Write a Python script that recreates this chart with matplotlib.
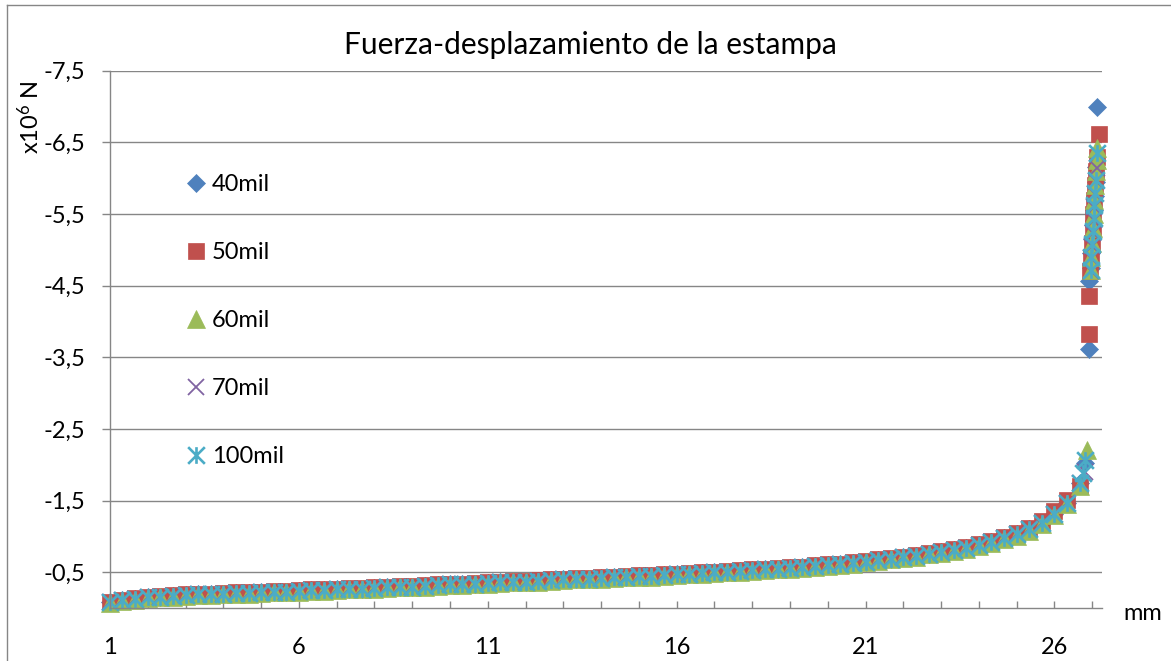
import matplotlib
matplotlib.use("Agg")
import matplotlib.pyplot as plt
from matplotlib.path import Path
from matplotlib.lines import Line2D
from matplotlib.ticker import FixedLocator, FuncFormatter

plt.rcParams['font.family'] = ['Lato', 'DejaVu Sans']
plt.rcParams['mathtext.fontset'] = 'custom'
plt.rcParams['mathtext.rm'] = 'Lato'
plt.rcParams['mathtext.it'] = 'Lato'

# ---------------- data ----------------
title = "Fuerza-desplazamiento de la estampa"
series_names = ["40mil", "50mil", "60mil", "70mil", "100mil"]
y_ticks = [-7.5, -6.5, -5.5, -4.5, -3.5, -2.5, -1.5, -0.5]
x_ticks = [1, 6, 11, 16, 21, 26]

# displacement (mm) of the smooth part, shared by the series
x_band = [1.00, 1.33, 1.67, 2.00, 2.33, 2.67, 3.00, 3.33, 3.67, 4.00, 4.33, 4.67,
          5.00, 5.33, 5.67, 6.00, 6.33, 6.67, 7.00, 7.33, 7.67, 8.00, 8.33, 8.67,
          9.00, 9.33, 9.67, 10.00, 10.33, 10.67, 11.00, 11.33, 11.67, 12.00, 12.33, 12.67,
          13.00, 13.33, 13.67, 14.00, 14.33, 14.67, 15.00, 15.33, 15.67, 16.00, 16.33, 16.67,
          17.00, 17.33, 17.67, 18.00, 18.33, 18.67, 19.00, 19.33, 19.67, 20.00, 20.33, 20.67,
          21.00, 21.33, 21.67, 22.00, 22.33, 22.67, 23.00, 23.33, 23.67, 24.00, 24.33, 24.67,
          25.00, 25.33, 25.67, 26.00, 26.33, 26.67]

# force (x10^6 N) of the smooth part
f40_band = [-0.08, -0.11, -0.13, -0.15, -0.16, -0.17, -0.18, -0.19, -0.19, -0.20, -0.21, -0.21,
            -0.22, -0.23, -0.23, -0.24, -0.25, -0.25, -0.26, -0.27, -0.27, -0.28, -0.29, -0.30,
            -0.30, -0.31, -0.32, -0.33, -0.33, -0.34, -0.35, -0.36, -0.37, -0.37, -0.38, -0.39,
            -0.40, -0.41, -0.41, -0.42, -0.43, -0.44, -0.45, -0.45, -0.46, -0.47, -0.48, -0.49,
            -0.50, -0.51, -0.52, -0.53, -0.54, -0.55, -0.56, -0.57, -0.59, -0.60, -0.61, -0.63,
            -0.65, -0.67, -0.69, -0.71, -0.73, -0.76, -0.78, -0.81, -0.84, -0.88, -0.92, -0.98,
            -1.03, -1.10, -1.19, -1.32, -1.47, -1.75]
f50_band = [-0.09, -0.12, -0.14, -0.16, -0.17, -0.18, -0.19, -0.20, -0.20, -0.21, -0.22, -0.22,
            -0.23, -0.24, -0.24, -0.25, -0.26, -0.26, -0.27, -0.28, -0.28, -0.29, -0.30, -0.31,
            -0.31, -0.32, -0.33, -0.34, -0.34, -0.35, -0.36, -0.37, -0.38, -0.38, -0.39, -0.40,
            -0.41, -0.42, -0.42, -0.43, -0.44, -0.45, -0.46, -0.46, -0.47, -0.48, -0.49, -0.50,
            -0.51, -0.52, -0.53, -0.54, -0.55, -0.56, -0.57, -0.58, -0.60, -0.61, -0.62, -0.64,
            -0.66, -0.68, -0.70, -0.72, -0.74, -0.77, -0.79, -0.82, -0.85, -0.89, -0.93, -0.99,
            -1.05, -1.12, -1.21, -1.35, -1.51, -1.70]
f60_band = [-0.07, -0.10, -0.12, -0.14, -0.15, -0.16, -0.17, -0.18, -0.18, -0.19, -0.20, -0.20,
            -0.21, -0.22, -0.22, -0.23, -0.24, -0.24, -0.25, -0.26, -0.26, -0.27, -0.28, -0.29,
            -0.29, -0.30, -0.31, -0.32, -0.32, -0.33, -0.34, -0.35, -0.36, -0.36, -0.37, -0.38,
            -0.39, -0.40, -0.40, -0.41, -0.42, -0.43, -0.44, -0.44, -0.45, -0.46, -0.47, -0.48,
            -0.49, -0.50, -0.51, -0.52, -0.53, -0.54, -0.55, -0.56, -0.58, -0.59, -0.60, -0.62,
            -0.64, -0.66, -0.68, -0.70, -0.72, -0.75, -0.77, -0.80, -0.83, -0.87, -0.91, -0.96,
            -1.01, -1.08, -1.17, -1.30, -1.45, -1.70]
f70_band = [-0.08, -0.11, -0.13, -0.15, -0.16, -0.17, -0.18, -0.19, -0.19, -0.20, -0.21, -0.21,
            -0.22, -0.23, -0.23, -0.24, -0.25, -0.25, -0.26, -0.27, -0.27, -0.28, -0.29, -0.30,
            -0.30, -0.31, -0.32, -0.33, -0.33, -0.34, -0.35, -0.36, -0.37, -0.37, -0.38, -0.39,
            -0.40, -0.41, -0.41, -0.42, -0.43, -0.44, -0.45, -0.45, -0.46, -0.47, -0.48, -0.49,
            -0.50, -0.51, -0.52, -0.53, -0.54, -0.55, -0.56, -0.57, -0.59, -0.60, -0.61, -0.63,
            -0.65, -0.67, -0.69, -0.71, -0.73, -0.76, -0.78, -0.81, -0.84, -0.88, -0.92, -0.98,
            -1.03, -1.10, -1.19, -1.32, -1.47, -1.75]
f100_band = [-0.08, -0.11, -0.13, -0.15, -0.16, -0.17, -0.18, -0.19, -0.19, -0.20, -0.21, -0.21,
             -0.22, -0.23, -0.23, -0.24, -0.25, -0.25, -0.26, -0.27, -0.27, -0.28, -0.29, -0.30,
             -0.30, -0.31, -0.32, -0.33, -0.33, -0.34, -0.35, -0.36, -0.37, -0.37, -0.38, -0.39,
             -0.40, -0.41, -0.41, -0.42, -0.43, -0.44, -0.45, -0.45, -0.46, -0.47, -0.48, -0.49,
             -0.50, -0.51, -0.52, -0.53, -0.54, -0.55, -0.56, -0.57, -0.59, -0.60, -0.61, -0.63,
             -0.65, -0.67, -0.69, -0.71, -0.73, -0.76, -0.78, -0.81, -0.84, -0.88, -0.92, -0.98,
             -1.03, -1.10, -1.19, -1.32, -1.47, -1.75]

# the final steep part of each curve
x40_tail = [26.80, 26.91, 26.92, 26.96, 26.98, 27.00, 27.03, 27.05, 27.07, 27.09, 27.11, 27.13]
f40_tail = [-2.02, -3.61, -4.56, -4.75, -4.95, -5.15, -5.35, -5.55, -5.75, -5.95, -6.15, -7.00]
x50_tail = [26.91, 26.92, 26.95, 26.97, 26.99, 27.01, 27.03, 27.06, 27.08, 27.10, 27.12, 27.17]
f50_tail = [-3.83, -4.36, -4.70, -4.90, -5.10, -5.30, -5.50, -5.70, -5.90, -6.10, -6.30, -6.62]
x60_tail = [26.86, 26.96, 26.98, 27.00, 27.02, 27.04, 27.06, 27.08, 27.10, 27.12, 27.14]
f60_tail = [-2.21, -4.72, -4.90, -5.10, -5.30, -5.50, -5.70, -5.90, -6.10, -6.25, -6.42]
x70_tail = [26.80, 26.96, 26.98, 27.00, 27.02, 27.04, 27.06, 27.08, 27.10, 27.12]
f70_tail = [-1.90, -4.70, -4.88, -5.06, -5.24, -5.42, -5.60, -5.78, -5.96, -6.14]
x100_tail = [26.75, 26.80, 26.96, 26.98, 27.00, 27.02, 27.04, 27.06, 27.08, 27.10, 27.13]
f100_tail = [-1.88, -2.07, -4.72, -4.90, -5.08, -5.26, -5.44, -5.62, -5.80, -5.98, -6.35]

# ---------------- styling ----------------
colors = ["#4F81BD", "#C0504D", "#9BBB59", "#8064A2", "#4BACC6"]
grid_col = "#868686"
star = Path([(-0.5, -0.5), (0.5, 0.5), (-0.5, 0.5), (0.5, -0.5), (0, -0.5), (0, 0.5)],
            [Path.MOVETO, Path.LINETO, Path.MOVETO, Path.LINETO, Path.MOVETO, Path.LINETO])
styles = [dict(marker="D", ms=9.0, mfc=colors[0], mec=colors[0], mew=0.5),
          dict(marker="s", ms=12.0, mfc=colors[1], mec=colors[1], mew=0.5),
          dict(marker="^", ms=12.5, mfc=colors[2], mec=colors[2], mew=0.5),
          dict(marker="x", ms=12.0, mfc="none", mec=colors[3], mew=1.3),
          dict(marker=star, ms=12.0, mfc="none", mec=colors[4], mew=1.9)]

xs = [x_band + x40_tail, x_band + x50_tail, x_band + x60_tail, x_band + x70_tail, x_band + x100_tail]
fs = [f40_band + f40_tail, f50_band + f50_tail, f60_band + f60_tail, f70_band + f70_tail, f100_band + f100_tail]

W, H = 1171, 661
fig = plt.figure(figsize=(W / 100, H / 100), dpi=100)
ax = fig.add_axes([110 / W, 1 - 608.1 / H, 992 / W, 537.4 / H])

handles = []
for x, f, st, name in zip(xs, fs, styles, series_names):
    h, = ax.plot(x, f, linestyle="none", label=name, clip_on=False, **st)
    handles.append(h)

ax.set_xlim(1, 27.26)
ax.set_ylim(0, -7.5)

ax.yaxis.set_major_locator(FixedLocator(y_ticks))
ax.yaxis.set_major_formatter(FuncFormatter(lambda v, p: f"{v:.1f}".replace(".", ",")))
ax.xaxis.set_major_locator(FixedLocator(x_ticks))
ax.xaxis.set_minor_locator(FixedLocator(list(range(1, 28))))
ax.xaxis.set_major_formatter(FuncFormatter(lambda v, p: f"{int(round(v))}"))

ax.grid(axis="y", color=grid_col, linewidth=1.0)
ax.set_axisbelow(True)
for s in ["top", "right"]:
    ax.spines[s].set_visible(False)
for s in ["left", "bottom"]:
    ax.spines[s].set_color(grid_col)
    ax.spines[s].set_linewidth(1.0)

FS = 17
ax.tick_params(axis="y", direction="out", length=5.8, width=1.0, color=grid_col,
               labelsize=FS, pad=12, labelcolor="black")
ax.tick_params(axis="x", which="both", direction="in", length=5.4, width=1.0, color=grid_col,
               labelsize=FS, pad=21, labelcolor="black")

leg = ax.legend(handles=handles, loc="center left", bbox_to_anchor=(0.0748, 0.535),
                frameon=False, fontsize=FS, labelspacing=1.99, handlelength=1.0,
                handletextpad=0.18, borderpad=0, borderaxespad=0, markerscale=1.0)

fig.text(590.5 / W, 1 - 45 / H, title, ha="center", va="center", fontsize=21.5)
fig.text(30 / W, 1 - 117 / H, r"x10$^6$ N", rotation=90, ha="center", va="center", fontsize=FS)
fig.text(1143 / W, 1 - 613 / H, "mm", ha="center", va="center", fontsize=FS)

# chart-area frame (left and top edges visible)
fig.add_artist(Line2D([7 / W, 7 / W], [0, 1 - 5 / H], transform=fig.transFigure,
                      color=grid_col, linewidth=1.0))
fig.add_artist(Line2D([7 / W, 1], [1 - 5 / H, 1 - 5 / H], transform=fig.transFigure,
                      color=grid_col, linewidth=1.0))

fig.savefig("out.png", dpi=100)
